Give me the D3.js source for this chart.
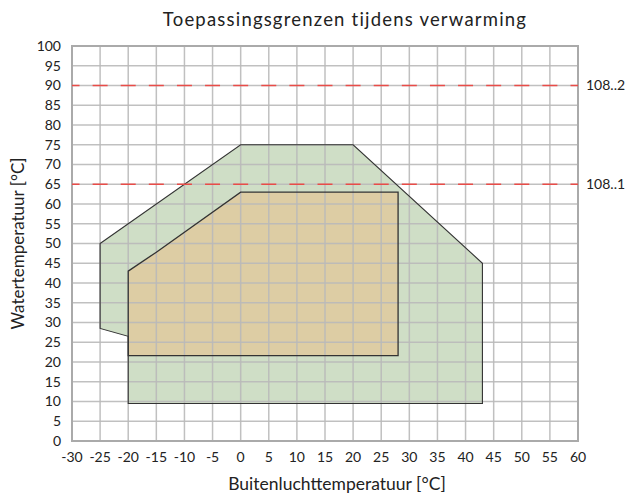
<!DOCTYPE html>
<html>
<head>
<meta charset="utf-8">
<script src="https://cdn.jsdelivr.net/npm/d3@7"></script>
<style>
  body { margin: 0; background: #fff; }
  text { font-family: Lato, "Open Sans", sans-serif; fill: #222; }
</style>
</head>
<body>
<div id="chart"></div>
<script>
// data
const xTicks = d3.range(-30, 61, 5);
const yTicks = d3.range(0, 101, 5);
const outerArea = [[-25, 50], [0, 75], [20, 75], [43, 45], [43, 9.5], [-20, 9.5], [-20, 26.5], [-25, 28.5]];
const innerArea = [[-20, 43], [-15, 47.8], [0, 63], [28, 63], [28, 21.6], [-20, 21.6]];
const limitValues = [90, 65];
const limitLabels = ["108..2", "108..1"];

const width = 630, height = 495;
const margin = { left: 72, right: 52, top: 46, bottom: 54 };

const svg = d3.select("#chart").append("svg")
    .attr("width", width)
    .attr("height", height);

const x = d3.scaleLinear().domain([-30, 60]).range([margin.left, width - margin.right]);
const y = d3.scaleLinear().domain([0, 100]).range([height - margin.bottom, margin.top]);

const line = d3.line().x(d => x(d[0])).y(d => y(d[1])).curve(d3.curveLinearClosed);

// vlakken
const fills = svg.append("g");
fills.append("path").attr("d", line(outerArea)).style("fill", "#cfdec6");
fills.append("path").attr("d", line(innerArea)).style("fill", "#ddcda4");

// rasterlijnen
const grid = svg.append("g").style("stroke", "#b9b9b9").style("stroke-width", 1.5).style("stroke-opacity", 0.9);
grid.selectAll("line.v").data(xTicks).join("line")
    .attr("x1", d => x(d)).attr("x2", d => x(d))
    .attr("y1", y(0)).attr("y2", y(100));
grid.selectAll("line.h").data(yTicks).join("line")
    .attr("x1", x(-30)).attr("x2", x(60))
    .attr("y1", d => y(d)).attr("y2", d => y(d));

// randen
svg.append("path")
    .attr("d", line(outerArea))
    .style("fill", "none")
    .style("stroke", "#333").style("stroke-width", 1.1);
svg.append("path")
    .attr("d", line(innerArea))
    .style("fill", "none")
    .style("stroke", "#333").style("stroke-width", 1.3);

// kader
svg.append("rect")
    .attr("x", x(-30)).attr("y", y(100))
    .attr("width", x(60) - x(-30)).attr("height", y(0) - y(100))
    .style("fill", "none").style("stroke", "#aaa").style("stroke-width", 2);

// grenslijnen
const step = x(5) - x(0);
const limits = svg.append("g");
limits.selectAll("line").data(limitValues).join("line")
    .attr("x1", x(-30)).attr("x2", x(60))
    .attr("y1", d => y(d)).attr("y2", d => y(d))
    .style("stroke", "#e94c48").style("stroke-width", 1.3)
    .style("stroke-dasharray", `15,${step - 15}`)
    .style("stroke-dashoffset", 7.5);
limits.selectAll("text").data(limitValues).join("text")
    .attr("x", x(60) + 8)
    .attr("y", d => y(d))
    .attr("dy", "0.35em")
    .style("font-size", "14px")
    .text((d, i) => limitLabels[i]);

// as-labels
svg.append("g").selectAll("text").data(xTicks).join("text")
    .attr("x", d => x(d))
    .attr("y", y(0) + 21)
    .attr("text-anchor", "middle")
    .style("font-size", "14px")
    .text(d => d);

svg.append("g").selectAll("text").data(yTicks).join("text")
    .attr("x", x(-30) - 11)
    .attr("y", d => y(d))
    .attr("dy", "0.35em")
    .attr("text-anchor", "end")
    .style("font-size", "14px")
    .text(d => d);

// titels
svg.append("text")
    .attr("x", 345).attr("y", 26)
    .attr("text-anchor", "middle")
    .style("font-size", "18.5px")
    .style("letter-spacing", "1.2px")
    .text("Toepassingsgrenzen tijdens verwarming");

svg.append("text")
    .attr("x", 337).attr("y", 490)
    .attr("text-anchor", "middle")
    .style("font-size", "17.5px")
    .text("Buitenluchttemperatuur [°C]");

svg.append("text")
    .attr("transform", `translate(24, ${(y(0) + y(100)) / 2}) rotate(-90)`)
    .attr("text-anchor", "middle")
    .style("font-size", "17px")
    .text("Watertemperatuur [°C]");
</script>
</body>
</html>
